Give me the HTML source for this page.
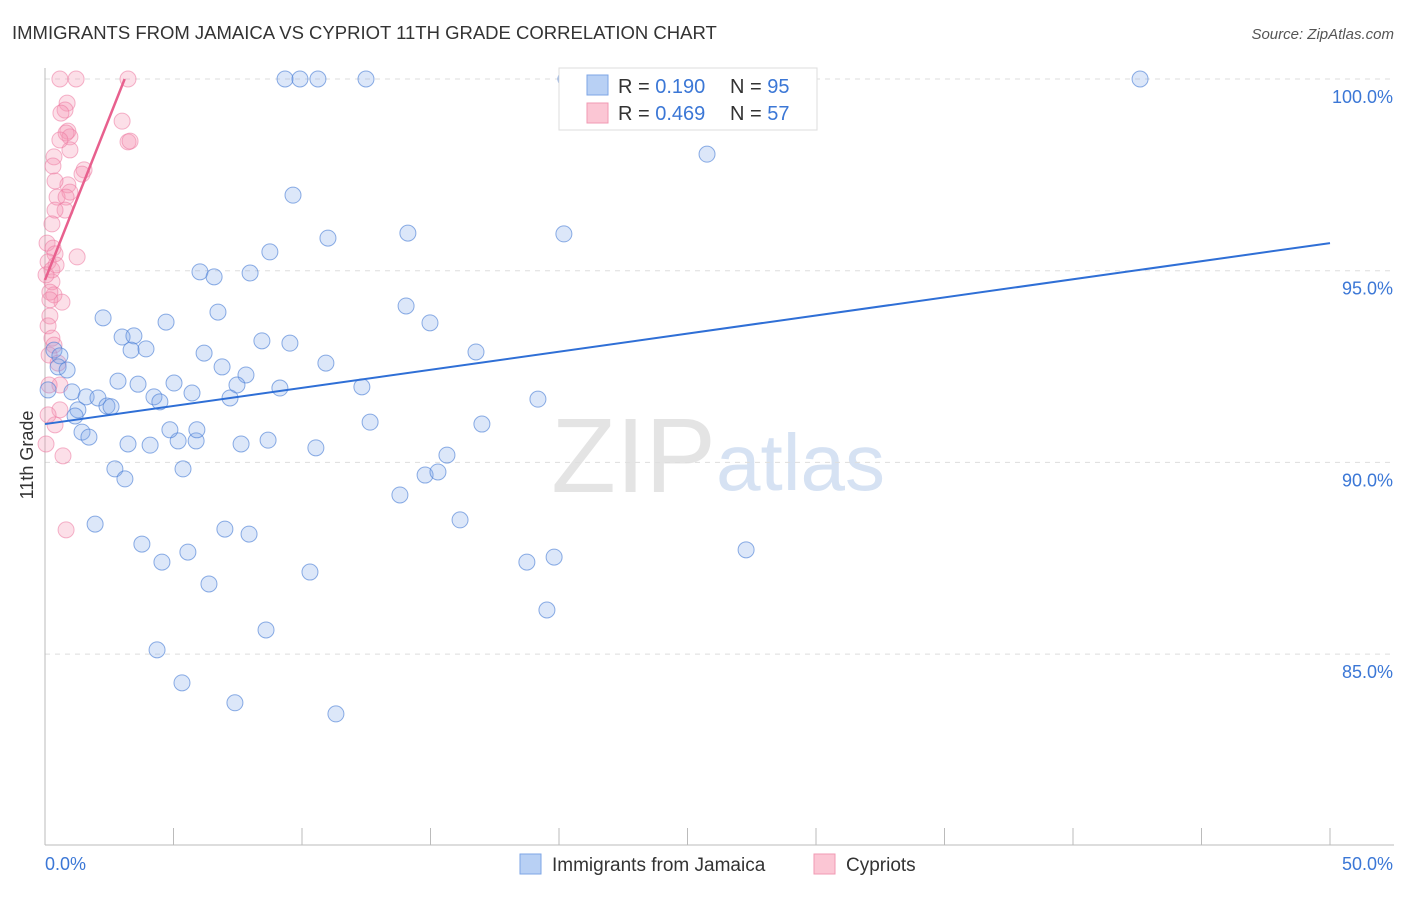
<!DOCTYPE html>
<html><head><meta charset="utf-8"><style>
body{margin:0;background:#fff;font-family:"Liberation Sans",sans-serif;}
svg text{font-family:"Liberation Sans",sans-serif;}
</style></head><body>
<svg id="chart" width="1406" height="892" xmlns="http://www.w3.org/2000/svg">
<text x="12" y="39" font-size="18.5" fill="#333">IMMIGRANTS FROM JAMAICA VS CYPRIOT 11TH GRADE CORRELATION CHART</text>
<text x="1394" y="39" font-size="15" fill="#555" font-style="italic" text-anchor="end">Source: ZipAtlas.com</text>
<text x="716" y="492" font-size="106" fill="#e4e4e4" text-anchor="end" font-family="Liberation Serif">ZIP</text>
<text x="716" y="490" font-size="80" fill="#d6e2f3">atlas</text>
<g id="grid"></g><g id="axes"></g><g id="pts"></g><g id="lines"></g>
<text transform="translate(33,455) rotate(-90)" font-size="18" fill="#333" text-anchor="middle">11th Grade</text>
<g>
<rect x="559" y="68" width="258" height="62" fill="#fff" stroke="#ddd"/>
<rect x="587" y="75" width="21" height="20" fill="#b8d0f4" stroke="#7ea6e6"/>
<rect x="587" y="103" width="21" height="20" fill="#fbc6d4" stroke="#f09ab3"/>
<text x="618" y="93" font-size="20" fill="#333">R = <tspan fill="#3b77d6"> 0.190</tspan></text>
<text x="730" y="93" font-size="20" fill="#333">N = <tspan fill="#3b77d6">95</tspan></text>
<text x="618" y="120" font-size="20" fill="#333">R = <tspan fill="#3b77d6">0.469</tspan></text>
<text x="730" y="120" font-size="20" fill="#333">N = <tspan fill="#3b77d6">57</tspan></text>
</g>
<g>
<rect x="520" y="854" width="21" height="20" fill="#b8d0f4" stroke="#7ea6e6"/>
<text x="552" y="871" font-size="19" fill="#333">Immigrants from Jamaica</text>
<rect x="814" y="854" width="21" height="20" fill="#fbc6d4" stroke="#f09ab3"/>
<text x="846" y="871" font-size="19" fill="#333">Cypriots</text>
</g>
</svg>
<script>
const yTicks=[100,95,90,85];
const yTickLabels=["100.0%","95.0%","90.0%","85.0%"];
const xTickLabels=["0.0%","50.0%"];
const blueX=[9.34,9.92,10.62,12.49,20.27,42.61,25.76,9.65,11.01,14.12,20.19,8.75,6.03,6.58,7.98,14.05,6.73,2.26,4.71,14.98,3.0,3.46,8.44,9.53,3.35,3.93,6.19,16.77,0.35,0.58,10.93,6.89,7.82,0.51,0.86,2.84,3.62,5.02,7.47,9.14,12.33,1.05,1.6,2.06,5.72,7.2,4.24,4.47,2.41,2.57,1.28,1.17,19.18,12.65,17.0,1.44,1.71,3.23,4.09,5.18,5.88,5.91,4.86,7.63,8.68,10.54,15.64,2.72,3.11,5.37,14.79,15.29,13.81,16.15,1.95,7.0,7.94,3.77,5.56,4.55,18.75,19.81,27.28,6.38,10.31,19.53,8.6,4.36,5.33,7.39,11.32,0.12];
const blueY=[100,100,100,100,100,100,98.04,96.97,95.85,95.98,95.96,95.49,94.97,94.84,94.94,94.08,93.92,93.77,93.66,93.64,93.27,93.3,93.17,93.11,92.93,92.96,92.85,92.88,92.93,92.78,92.59,92.49,92.28,92.49,92.41,92.12,92.04,92.07,92.02,91.94,91.97,91.84,91.71,91.68,91.81,91.68,91.71,91.58,91.47,91.45,91.37,91.21,91.65,91.05,91.0,90.79,90.66,90.48,90.45,90.56,90.56,90.85,90.85,90.48,90.58,90.38,90.19,89.83,89.57,89.83,89.67,89.75,89.15,88.5,88.39,88.26,88.13,87.87,87.66,87.4,87.4,87.53,87.72,86.83,87.14,86.15,85.63,85.11,84.25,83.73,83.44,91.89];
const pinkX=[0.58,1.21,3.23,0.86,0.78,0.62,3.0,0.89,0.97,0.82,3.23,3.31,0.97,0.35,1.52,0.31,1.44,0.89,0.39,0.97,0.47,0.82,0.78,0.39,0.27,0.08,0.31,1.25,0.39,0.12,0.27,0.27,0.35,0.19,0.66,0.19,0.12,0.27,0.35,0.16,0.51,0.58,0.16,0.58,0.39,0.12,0.70,0.04,0.82,0.19,0.04,0.43,0.58];
const pinkY=[100,100,100,99.37,99.19,99.11,98.9,98.64,98.49,98.59,98.36,98.38,98.15,97.97,97.63,97.73,97.52,97.24,97.34,97.05,96.92,96.92,96.58,96.58,96.22,95.72,95.59,95.36,95.44,95.23,95.02,94.71,94.37,94.44,94.18,93.82,93.56,93.24,93.06,92.8,92.59,92.02,92.02,91.37,90.98,91.24,90.17,90.48,88.24,94.24,94.89,95.15,98.41];
const blueTrend=[[0,91.0],[50,95.72]];
const pinkTrend=[[0,94.76],[3.1,100]];
const NS="http://www.w3.org/2000/svg";
const X=v=>45+v/50*1285;
const Y=v=>79+(100-v)*38.34;
function mk(tag,attrs,parent){const e=document.createElementNS(NS,tag);for(const k in attrs)e.setAttribute(k,attrs[k]);document.getElementById(parent).appendChild(e);return e;}
yTicks.forEach((t,i)=>{
 const g=mk('line',{x1:45,x2:1394,y1:Y(t),y2:Y(t),stroke:'#ddd','stroke-dasharray':'5,5'},'grid');
 
 
 const l=mk('text',{x:1393,y:Y(t)+24,'font-size':18,fill:'#3b77d6','text-anchor':'end'},'axes');
 l.textContent=yTickLabels[i];
 
 
});
const ax=mk('line',{x1:45,x2:1394,y1:845,y2:845,stroke:'#bbb'},'axes');


const ay=mk('line',{x1:45,x2:45,y1:68,y2:845,stroke:'#bbb'},'axes');


for(let i=0;i<=10;i++){
 const t=mk('line',{x1:X(i*5),x2:X(i*5),y1:828,y2:845,stroke:'#bbb'},'axes');
 
 
}
xTickLabels.forEach((s,i)=>{
 const t=mk('text',{x:i?1393:45,y:870,'font-size':18,fill:'#3b77d6','text-anchor':i?'end':'start'},'axes');
 t.textContent=s;
 
 
});
pinkX.forEach((x,i)=>{
 const c=mk('circle',{cx:X(x),cy:Y(pinkY[i]),r:8,fill:'rgba(244,150,180,0.3)',stroke:'rgba(236,120,160,0.55)','stroke-width':1},'pts');
 
 
});
blueX.forEach((x,i)=>{
 const c=mk('circle',{cx:X(x),cy:Y(blueY[i]),r:8,fill:'rgba(130,170,235,0.28)',stroke:'rgba(80,130,215,0.65)','stroke-width':1},'pts');
 
 
});
const bl=mk('line',{x1:X(blueTrend[0][0]),y1:Y(blueTrend[0][1]),x2:X(blueTrend[1][0]),y2:Y(blueTrend[1][1]),stroke:'#2f6fd6','stroke-width':2},'lines');


const pl=mk('line',{x1:X(pinkTrend[0][0]),y1:Y(pinkTrend[0][1]),x2:X(pinkTrend[1][0]),y2:Y(pinkTrend[1][1]),stroke:'#e8608e','stroke-width':2.5},'lines');


</script>
</body></html>
